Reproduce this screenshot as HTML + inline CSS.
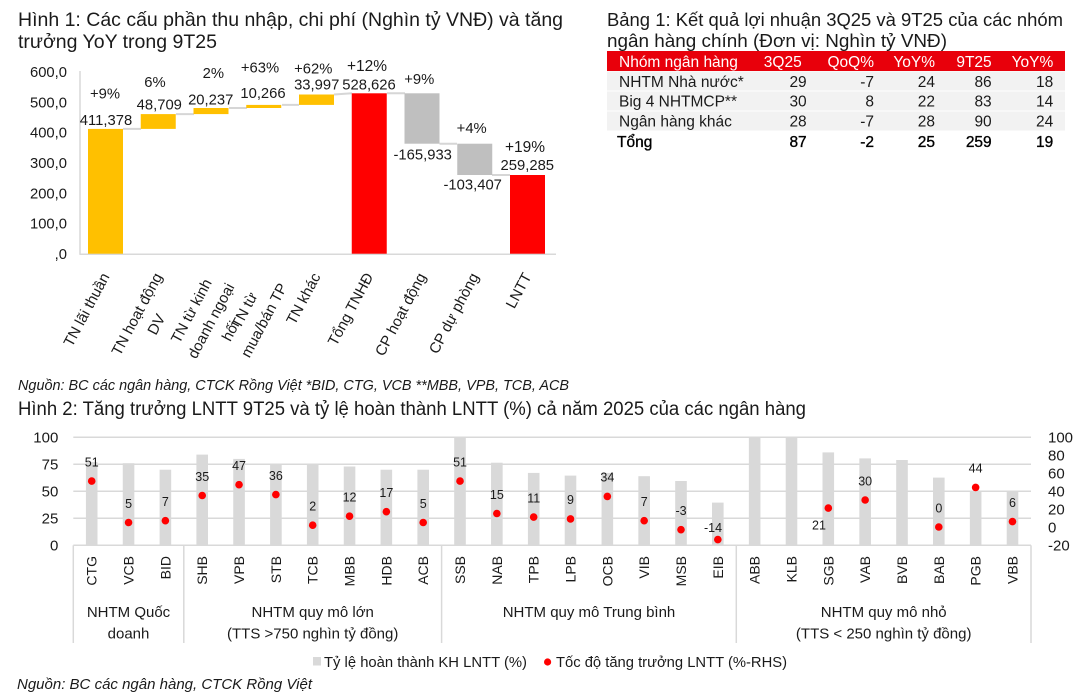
<!DOCTYPE html>
<html><head><meta charset="utf-8">
<style>
html,body{margin:0;padding:0;background:#fff;}
svg{display:block}
text{font-family:"Liberation Sans",Arial,sans-serif;fill:#1a1a1a}
</style></head>
<body>
<svg width="1080" height="693" viewBox="0 0 1080 693" xmlns="http://www.w3.org/2000/svg">
<rect width="1080" height="693" fill="#fff"/>

<!-- ============ Chart 1 title ============ -->
<text x="18" y="26" font-size="19.5" textLength="545" lengthAdjust="spacingAndGlyphs">Hình 1: Các cấu phần thu nhập, chi phí (Nghìn tỷ VNĐ) và tăng</text>
<text x="18" y="48" font-size="19.5">trưởng YoY trong 9T25</text>

<!-- ============ Table ============ -->
<text x="607" y="26" font-size="18.8" textLength="456" lengthAdjust="spacingAndGlyphs">Bảng 1: Kết quả lợi nhuận 3Q25 và 9T25 của các nhóm</text>
<text x="607" y="47" font-size="18.8" textLength="340" lengthAdjust="spacingAndGlyphs">ngân hàng chính (Đơn vị: Nghìn tỷ VNĐ)</text>
<rect x="607" y="51" width="458" height="20" fill="#e8000b"/>
<rect x="607" y="71.4" width="458" height="19.2" fill="#f2f2f2"/>
<rect x="607" y="91.4" width="458" height="19.2" fill="#f2f2f2"/>
<rect x="607" y="111.4" width="458" height="19.2" fill="#f2f2f2"/>
<g font-size="15.5">
<g style="fill:#fff">
<text x="619" y="67" style="fill:#fff">Nhóm ngân hàng</text>
<text x="801.7" y="67" text-anchor="end" style="fill:#fff">3Q25</text>
<text x="874" y="67" text-anchor="end" style="fill:#fff">QoQ%</text>
<text x="935" y="67" text-anchor="end" style="fill:#fff">YoY%</text>
<text x="991.7" y="67" text-anchor="end" style="fill:#fff">9T25</text>
<text x="1053.3" y="67" text-anchor="end" style="fill:#fff">YoY%</text>
</g>
<text x="619" y="87.2">NHTM Nhà nước*</text>
<text x="806.7" y="87.2" text-anchor="end">29</text>
<text x="874" y="87.2" text-anchor="end">-7</text>
<text x="935" y="87.2" text-anchor="end">24</text>
<text x="991.7" y="87.2" text-anchor="end">86</text>
<text x="1053.3" y="87.2" text-anchor="end">18</text>

<text x="619" y="106.5">Big 4 NHTMCP**</text>
<text x="806.7" y="106.5" text-anchor="end">30</text>
<text x="874" y="106.5" text-anchor="end">8</text>
<text x="935" y="106.5" text-anchor="end">22</text>
<text x="991.7" y="106.5" text-anchor="end">83</text>
<text x="1053.3" y="106.5" text-anchor="end">14</text>

<text x="619" y="126.5">Ngân hàng khác</text>
<text x="806.7" y="126.5" text-anchor="end">28</text>
<text x="874" y="126.5" text-anchor="end">-7</text>
<text x="935" y="126.5" text-anchor="end">28</text>
<text x="991.7" y="126.5" text-anchor="end">90</text>
<text x="1053.3" y="126.5" text-anchor="end">24</text>

<g stroke="#000" stroke-width="0.35">
<text x="617" y="147" style="fill:#000">Tổng</text>
<text x="806.7" y="147" text-anchor="end" style="fill:#000">87</text>
<text x="874" y="147" text-anchor="end" style="fill:#000">-2</text>
<text x="935" y="147" text-anchor="end" style="fill:#000">25</text>
<text x="991.7" y="147" text-anchor="end" style="fill:#000">259</text>
<text x="1053.3" y="147" text-anchor="end" style="fill:#000">19</text>
</g>
</g>

<!-- ============ Chart 1 (waterfall) ============ -->
<g font-size="14.8">
<text x="67" y="77" text-anchor="end">600,0</text>
<text x="67" y="107.3" text-anchor="end">500,0</text>
<text x="67" y="137.6" text-anchor="end">400,0</text>
<text x="67" y="168" text-anchor="end">300,0</text>
<text x="67" y="198.3" text-anchor="end">200,0</text>
<text x="67" y="228.7" text-anchor="end">100,0</text>
<text x="67" y="259" text-anchor="end">,0</text>
</g>
<line x1="80" y1="71" x2="80" y2="254.5" stroke="#d9d9d9" stroke-width="1.5"/>
<line x1="79.5" y1="254.2" x2="556" y2="254.2" stroke="#d9d9d9" stroke-width="1.5"/>

<!-- connectors -->
<g stroke="#d6d6d6" stroke-width="2">
<line x1="123" y1="128.9" x2="141" y2="128.9"/>
<line x1="176" y1="114.1" x2="194" y2="114.1"/>
<line x1="229" y1="108" x2="247" y2="108"/>
<line x1="282" y1="104.9" x2="299" y2="104.9"/>
<line x1="334" y1="94.5" x2="352" y2="93.3"/>
<line x1="387" y1="93.3" x2="405" y2="93.3"/>
<line x1="439.5" y1="143.7" x2="457" y2="143.7"/>
<line x1="492" y1="175" x2="510" y2="175"/>
</g>
<!-- bars -->
<rect x="88" y="128.9" width="35" height="124.8" fill="#ffc000"/>
<rect x="140.75" y="114.1" width="35" height="14.8" fill="#ffc000"/>
<rect x="193.5" y="108" width="35" height="6.1" fill="#ffc000"/>
<rect x="246.25" y="104.9" width="35" height="3.1" fill="#ffc000"/>
<rect x="299" y="94.5" width="35" height="10.4" fill="#ffc000"/>
<rect x="351.75" y="93.3" width="35" height="160.4" fill="#ff0000"/>
<rect x="404.5" y="93.3" width="35" height="50.4" fill="#bfbfbf"/>
<rect x="457.25" y="143.7" width="35" height="31.3" fill="#bfbfbf"/>
<rect x="510" y="175" width="35" height="78.7" fill="#ff0000"/>

<!-- data labels -->
<g font-size="14.8" text-anchor="middle">
<text x="105" y="98.5">+9%</text><text x="106" y="125.2">411,378</text>
<text x="155" y="86.9">6%</text><text x="159.3" y="109.5">48,709</text>
<text x="213.3" y="77.9">2%</text><text x="210.7" y="104.5">20,237</text>
<text x="260" y="72.5">+63%</text><text x="263" y="97.9">10,266</text>
<text x="313.3" y="73.5">+62%</text><text x="316.7" y="89.5">33,997</text>
<text x="367" y="71.2" font-size="15.5">+12%</text><text x="369" y="89.5">528,626</text>
<text x="419.3" y="84.2">+9%</text><text x="422.7" y="159.5">-165,933</text>
<text x="471.7" y="132.9">+4%</text><text x="472.7" y="189.5">-103,407</text>
<text x="525" y="151.9" font-size="15.5">+19%</text><text x="527.3" y="170.2">259,285</text>
</g>

<!-- category labels rotated -->
<g font-size="15">
<g transform="translate(105.5,274) rotate(-62)"><text x="0" y="5" text-anchor="end">TN lãi thuần</text></g>
<g transform="translate(158.25,274) rotate(-62)"><text x="0" y="5" text-anchor="end">TN hoạt động</text><text x="-35" y="27" text-anchor="end">DV</text></g>
<g transform="translate(211,274) rotate(-62)"><text x="-6.8" y="5" text-anchor="end">TN từ kinh</text><text x="0" y="27" text-anchor="end">doanh ngoại</text><text x="-31.2" y="49" text-anchor="end">hối</text></g>
<g transform="translate(263.75,274) rotate(-62)"><text x="-22" y="5" text-anchor="end">TN từ</text><text x="0" y="27" text-anchor="end">mua/bán TP</text></g>
<g transform="translate(316.5,274) rotate(-62)"><text x="0" y="5" text-anchor="end">TN khác</text></g>
<g transform="translate(369.25,274) rotate(-62)"><text x="0" y="5" text-anchor="end">Tổng TNHĐ</text></g>
<g transform="translate(422,274) rotate(-62)"><text x="0" y="5" text-anchor="end">CP hoạt động</text></g>
<g transform="translate(474.75,274) rotate(-62)"><text x="0" y="5" text-anchor="end">CP dự phòng</text></g>
<g transform="translate(527.5,274) rotate(-62)"><text x="0" y="5" text-anchor="end">LNTT</text></g>
</g>

<!-- source 1 -->
<text x="18" y="390" font-size="14.6" font-style="italic" textLength="551" lengthAdjust="spacingAndGlyphs">Nguồn: BC các ngân hàng, CTCK Rồng Việt *BID, CTG, VCB **MBB, VPB, TCB, ACB</text>

<!-- ============ Chart 2 ============ -->
<text x="18" y="415" font-size="19" textLength="788" lengthAdjust="spacingAndGlyphs">Hình 2: Tăng trưởng LNTT 9T25 và tỷ lệ hoàn thành LNTT (%) cả năm 2025 của các ngân hàng</text>

<!-- gridlines -->
<g stroke="#d9d9d9" stroke-width="1.5">
<line x1="73.3" y1="437.3" x2="1031" y2="437.3"/>
<line x1="73.3" y1="464.3" x2="1031" y2="464.3"/>
<line x1="73.3" y1="491.3" x2="1031" y2="491.3"/>
<line x1="73.3" y1="518.3" x2="1031" y2="518.3"/>
</g>

<!-- bars -->
<g fill="#d9d9d9">
<rect x="85.9" y="462.1" width="11.6" height="83.2"/>
<rect x="122.75" y="463.2" width="11.6" height="82.1"/>
<rect x="159.6" y="469.7" width="11.6" height="75.6"/>
<rect x="196.4" y="454.6" width="11.6" height="90.7"/>
<rect x="233.25" y="458.9" width="11.6" height="86.4"/>
<rect x="270.1" y="464.3" width="11.6" height="81"/>
<rect x="306.9" y="464.3" width="11.6" height="81"/>
<rect x="343.75" y="466.5" width="11.6" height="78.8"/>
<rect x="380.55" y="469.7" width="11.6" height="75.6"/>
<rect x="417.4" y="469.7" width="11.6" height="75.6"/>
<rect x="454.2" y="437.3" width="11.6" height="108"/>
<rect x="491.05" y="462.7" width="11.6" height="82.6"/>
<rect x="527.9" y="472.9" width="11.6" height="72.4"/>
<rect x="564.7" y="475.6" width="11.6" height="69.7"/>
<rect x="601.55" y="472.9" width="11.6" height="72.4"/>
<rect x="638.35" y="476.2" width="11.6" height="69.1"/>
<rect x="675.2" y="481" width="11.6" height="64.3"/>
<rect x="712" y="502.6" width="11.6" height="42.7"/>
<rect x="748.85" y="437.3" width="11.6" height="108"/>
<rect x="785.7" y="437.3" width="11.6" height="108"/>
<rect x="822.5" y="452.4" width="11.6" height="92.9"/>
<rect x="859.35" y="458.4" width="11.6" height="86.9"/>
<rect x="896.2" y="460" width="11.6" height="85.3"/>
<rect x="933" y="477.6" width="11.6" height="67.7"/>
<rect x="969.85" y="491.3" width="11.6" height="54"/>
<rect x="1006.7" y="491.3" width="11.6" height="54"/>
</g>

<!-- axis + separators -->
<g stroke="#d9d9d9" stroke-width="1.5">
<line x1="73.3" y1="545.3" x2="1031" y2="545.3"/>
<line x1="73.3" y1="545.3" x2="73.3" y2="643"/>
<line x1="183.8" y1="545.3" x2="183.8" y2="643"/>
<line x1="441.6" y1="545.3" x2="441.6" y2="643"/>
<line x1="736.3" y1="545.3" x2="736.3" y2="643"/>
<line x1="1031" y1="545.3" x2="1031" y2="643"/>
</g>

<!-- dots -->
<g fill="#ff0000">
<circle cx="91.72" cy="481.1" r="3.8"/>
<circle cx="128.55" cy="522.5" r="3.8"/>
<circle cx="165.38" cy="520.7" r="3.8"/>
<circle cx="202.21" cy="495.5" r="3.8"/>
<circle cx="239.04" cy="484.7" r="3.8"/>
<circle cx="275.87" cy="494.6" r="3.8"/>
<circle cx="312.7" cy="525.2" r="3.8"/>
<circle cx="349.53" cy="516.2" r="3.8"/>
<circle cx="386.36" cy="511.7" r="3.8"/>
<circle cx="423.19" cy="522.5" r="3.8"/>
<circle cx="460.02" cy="481.1" r="3.8"/>
<circle cx="496.85" cy="513.5" r="3.8"/>
<circle cx="533.68" cy="517.1" r="3.8"/>
<circle cx="570.51" cy="518.9" r="3.8"/>
<circle cx="607.34" cy="496.4" r="3.8"/>
<circle cx="644.17" cy="520.7" r="3.8"/>
<circle cx="681" cy="529.7" r="3.8"/>
<circle cx="717.83" cy="539.6" r="3.8"/>
<circle cx="828.32" cy="508.1" r="3.8"/>
<circle cx="865.15" cy="500" r="3.8"/>
<circle cx="938.81" cy="527" r="3.8"/>
<circle cx="975.64" cy="487.4" r="3.8"/>
<circle cx="1012.47" cy="521.6" r="3.8"/>
</g>

<!-- dot labels -->
<g font-size="12.5" text-anchor="middle">
<text x="91.72" y="466.4">51</text>
<text x="128.55" y="507.8">5</text>
<text x="165.38" y="506">7</text>
<text x="202.21" y="480.8">35</text>
<text x="239.04" y="470">47</text>
<text x="275.87" y="479.9">36</text>
<text x="312.7" y="510.5">2</text>
<text x="349.53" y="501.5">12</text>
<text x="386.36" y="497">17</text>
<text x="423.19" y="507.8">5</text>
<text x="460.02" y="466.4">51</text>
<text x="496.85" y="498.8">15</text>
<text x="533.68" y="502.4">11</text>
<text x="570.51" y="504.2">9</text>
<text x="607.34" y="481.7">34</text>
<text x="644.17" y="506">7</text>
<text x="681" y="515">-3</text>
<text x="713" y="532">-14</text>
<text x="819" y="529.3">21</text>
<text x="865.15" y="485.3">30</text>
<text x="938.81" y="512.3">0</text>
<text x="975.64" y="472.7">44</text>
<text x="1012.47" y="506.9">6</text>
</g>

<!-- left axis -->
<g font-size="15" text-anchor="end">
<text x="58.3" y="442.6">100</text>
<text x="58.3" y="469.6">75</text>
<text x="58.3" y="496.6">50</text>
<text x="58.3" y="523.6">25</text>
<text x="58.3" y="550.6">0</text>
</g>
<!-- right axis -->
<g font-size="15">
<text x="1048" y="442.3">100</text>
<text x="1048" y="460.3">80</text>
<text x="1048" y="478.3">60</text>
<text x="1048" y="496.3">40</text>
<text x="1048" y="514.3">20</text>
<text x="1048" y="532.3">0</text>
<text x="1048" y="550.3">-20</text>
</g>

<!-- category labels -->
<g font-size="14" text-anchor="end">
<text transform="translate(91.72,556) rotate(-90)" y="5">CTG</text>
<text transform="translate(128.55,556) rotate(-90)" y="5">VCB</text>
<text transform="translate(165.38,556) rotate(-90)" y="5">BID</text>
<text transform="translate(202.21,556) rotate(-90)" y="5">SHB</text>
<text transform="translate(239.04,556) rotate(-90)" y="5">VPB</text>
<text transform="translate(275.87,556) rotate(-90)" y="5">STB</text>
<text transform="translate(312.7,556) rotate(-90)" y="5">TCB</text>
<text transform="translate(349.53,556) rotate(-90)" y="5">MBB</text>
<text transform="translate(386.36,556) rotate(-90)" y="5">HDB</text>
<text transform="translate(423.19,556) rotate(-90)" y="5">ACB</text>
<text transform="translate(460.02,556) rotate(-90)" y="5">SSB</text>
<text transform="translate(496.85,556) rotate(-90)" y="5">NAB</text>
<text transform="translate(533.68,556) rotate(-90)" y="5">TPB</text>
<text transform="translate(570.51,556) rotate(-90)" y="5">LPB</text>
<text transform="translate(607.34,556) rotate(-90)" y="5">OCB</text>
<text transform="translate(644.17,556) rotate(-90)" y="5">VIB</text>
<text transform="translate(681,556) rotate(-90)" y="5">MSB</text>
<text transform="translate(717.83,556) rotate(-90)" y="5">EIB</text>
<text transform="translate(754.66,556) rotate(-90)" y="5">ABB</text>
<text transform="translate(791.49,556) rotate(-90)" y="5">KLB</text>
<text transform="translate(828.32,556) rotate(-90)" y="5">SGB</text>
<text transform="translate(865.15,556) rotate(-90)" y="5">VAB</text>
<text transform="translate(901.98,556) rotate(-90)" y="5">BVB</text>
<text transform="translate(938.81,556) rotate(-90)" y="5">BAB</text>
<text transform="translate(975.64,556) rotate(-90)" y="5">PGB</text>
<text transform="translate(1012.47,556) rotate(-90)" y="5">VBB</text>
</g>

<!-- group labels -->
<g font-size="15" text-anchor="middle">
<text x="128.5" y="617">NHTM Quốc</text>
<text x="128.5" y="638.7">doanh</text>
<text x="312.7" y="617">NHTM quy mô lớn</text>
<text x="312.7" y="638.7">(TTS &gt;750 nghìn tỷ đồng)</text>
<text x="589" y="617">NHTM quy mô Trung bình</text>
<text x="883.7" y="617">NHTM quy mô nhỏ</text>
<text x="883.7" y="638.7">(TTS &lt; 250 nghìn tỷ đồng)</text>
</g>

<!-- legend -->
<rect x="313" y="657" width="8" height="8.5" fill="#d9d9d9"/>
<text x="324" y="667" font-size="15" textLength="203" lengthAdjust="spacingAndGlyphs">Tỷ lệ hoàn thành KH LNTT (%)</text>
<circle cx="547.6" cy="662" r="3.6" fill="#ff0000"/>
<text x="556" y="667" font-size="15" textLength="231" lengthAdjust="spacingAndGlyphs">Tốc độ tăng trưởng LNTT (%-RHS)</text>

<!-- source 2 -->
<text x="17" y="689" font-size="14.6" font-style="italic" textLength="295" lengthAdjust="spacingAndGlyphs">Nguồn: BC các ngân hàng, CTCK Rồng Việt</text>
</svg>
</body></html>
